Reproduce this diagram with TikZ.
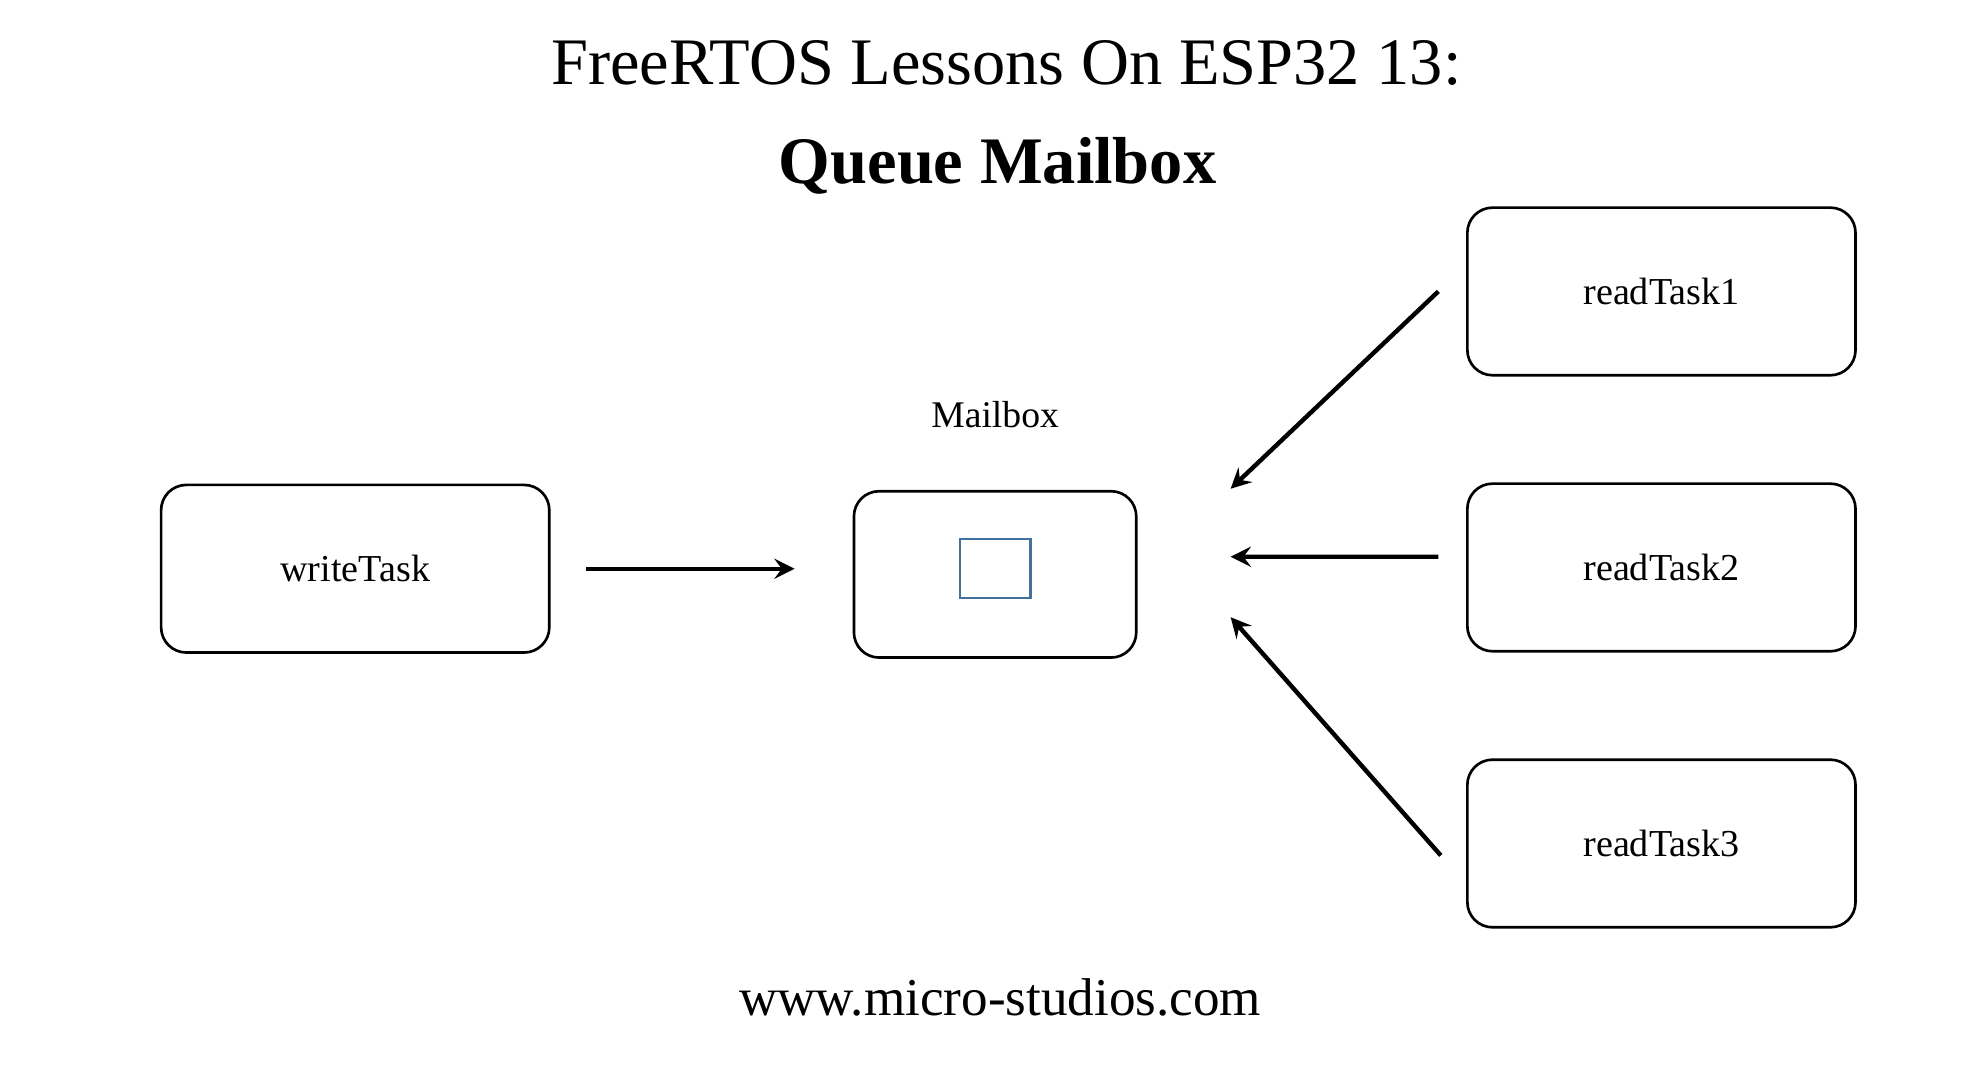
\documentclass[tikz,border=0pt]{standalone}
\usepackage{fontspec}
\setmainfont{Liberation Serif}
\usetikzlibrary{arrows, positioning}
\definecolor{slotblue}{HTML}{41719C}

\begin{document}
\begin{tikzpicture}[x=0.01cm, y=-0.01cm, node distance=2.19cm]
	\tikzstyle{task} = [rectangle, rounded corners=0.2cm, minimum width=3.08cm, 
	minimum height=1.33cm, text centered, draw=black, line width=0.6pt, 
	font=\fontsize{8.6}{10}\selectfont]
	\tikzstyle{queue} = [rectangle, rounded corners=0.2cm, minimum width=2.24cm, 
	minimum height=1.32cm, draw=black, line width=0.6pt]
	\tikzstyle{slot} = [rectangle, minimum width=0.56cm, minimum height=0.47cm, 
	draw=slotblue, line width=0.5pt]
	\tikzstyle{arrow} = [line width=1pt,->,>=stealth]
	\useasboundingbox (0,0) rectangle (1560,848);
	\node (title) [font=\fontsize{15}{18}\selectfont] at (799,50) {FreeRTOS Lessons On ESP32 13:};
	\node (subtitle) [anchor=base, font=\fontsize{15}{18}\selectfont\bfseries] at (792,146) {Queue Mailbox};
	\node (mailbox) [queue] at (790,456) {};
	\node (slot) [slot, yshift=0.045cm] at (mailbox) {};
	\node (mailboxLabel) [above=0.37cm of mailbox, font=\fontsize{8.5}{10}\selectfont] {Mailbox};
	\node (writeTask) [task] at (282,451.5) {writeTask};
	\node (readTask2) [task] at (1319,450.5) {readTask2};
	\node (readTask1) [task, above of=readTask2] {readTask1};
	\node (readTask3) [task, below of=readTask2] {readTask3};
	\node (website) [anchor=base, font=\fontsize{12}{14}\selectfont] at (794,806) {www.micro-studios.com};
	\coordinate (hitTop) at (977,388);
	\coordinate (hitMid) at (977,442);
	\coordinate (hitBot) at (977,490);
	\draw [arrow, shorten <=0.28cm, shorten >=0.46cm] (writeTask.east) -- (writeTask.east -| mailbox.west);
	\draw [arrow] ([xshift=-0.22cm]readTask1.west) -- (hitTop);
	\draw [arrow] ([xshift=-0.22cm, yshift=0.085cm]readTask2.west) -- (hitMid);
	\draw [arrow] ([xshift=-0.20cm, yshift=-0.095cm]readTask3.west) -- (hitBot);
\end{tikzpicture}
\end{document}
